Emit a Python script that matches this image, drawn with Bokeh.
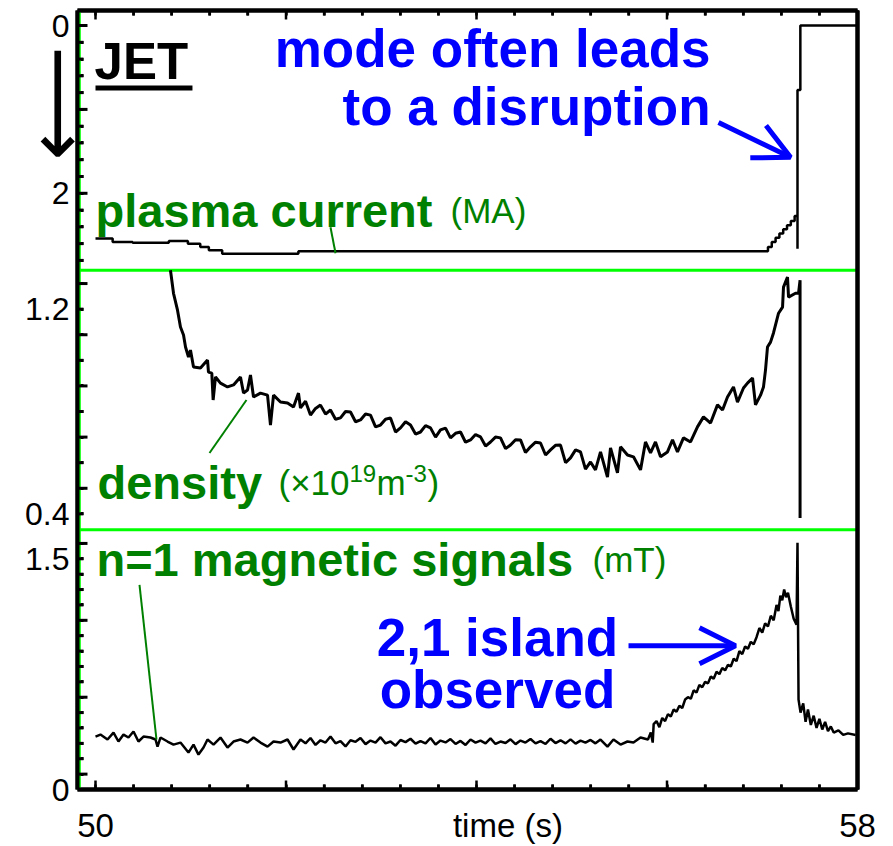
from bokeh.plotting import figure
from bokeh.models import Range1d, LinearAxis, FixedTicker, Span, Label, Arrow, OpenHead
from bokeh.embed import file_html
from bokeh.resources import INLINE

# ---------------- data ----------------
# plasma current (MA), staircase trace
ip_time = [50.00, 50.18, 50.39, 50.77, 50.97, 51.10, 51.19, 51.33, 52.13, 57.06, 57.10,
           57.14, 57.18, 57.22, 57.26, 57.30, 57.34, 57.37, 57.37, 57.40, 58.00]
ip_ma = [2.54, 2.58, 2.59, 2.57, 2.60, 2.64, 2.68, 2.72, 2.69, 2.64, 2.58,
         2.53, 2.48, 2.43, 2.38, 2.33, 2.27, 2.66, 0.77, 0.00, 0.00]

# density (x10^19 m^-3)
ne_time = [50.787, 50.819, 50.861, 50.892, 50.924, 50.945, 50.976, 50.997, 51.029, 51.102,
           51.176, 51.186, 51.221, 51.235, 51.260, 51.312, 51.386, 51.449, 51.522, 51.554,
           51.596, 51.627, 51.659, 51.732, 51.806, 51.837, 51.869, 51.942, 52.016, 52.079,
           52.131, 52.152, 52.205, 52.257, 52.310, 52.362, 52.415, 52.467, 52.520, 52.572,
           52.625, 52.677, 52.730, 52.782, 52.835, 52.887, 52.940, 52.992, 53.045, 53.097,
           53.150, 53.202, 53.255, 53.307, 53.360, 53.412, 53.465, 53.517, 53.570, 53.622,
           53.675, 53.727, 53.780, 53.832, 53.885, 53.937, 53.990, 54.042, 54.095, 54.147,
           54.199, 54.252, 54.305, 54.357, 54.410, 54.462, 54.514, 54.567, 54.620, 54.672,
           54.725, 54.777, 54.829, 54.882, 54.935, 54.987, 55.040, 55.092, 55.144, 55.197,
           55.249, 55.302, 55.375, 55.407, 55.480, 55.512, 55.585, 55.648, 55.722, 55.774,
           55.827, 55.879, 55.932, 56.005, 56.058, 56.110, 56.173, 56.247, 56.320, 56.383,
           56.457, 56.530, 56.583, 56.635, 56.698, 56.740, 56.803, 56.845, 56.898, 56.929,
           56.982, 57.013, 57.034, 57.055, 57.087, 57.118, 57.171, 57.213, 57.223, 57.265,
           57.276, 57.349, 57.381, 57.397, 57.397]
ne_val = [1.352, 1.262, 1.196, 1.130, 1.099, 1.052, 1.013, 1.040, 0.974, 0.970,
          1.001, 0.954, 0.950, 0.845, 0.935, 0.911, 0.896, 0.904, 0.935, 0.872,
          0.884, 0.943, 0.857, 0.872, 0.864, 0.747, 0.864, 0.837, 0.833, 0.818,
          0.872, 0.814, 0.840, 0.786, 0.812, 0.825, 0.790, 0.806, 0.770, 0.775,
          0.800, 0.798, 0.760, 0.767, 0.790, 0.786, 0.740, 0.747, 0.770, 0.775,
          0.720, 0.736, 0.760, 0.747, 0.712, 0.720, 0.745, 0.736, 0.700, 0.728,
          0.735, 0.697, 0.715, 0.720, 0.680, 0.689, 0.710, 0.701, 0.665, 0.681,
          0.700, 0.697, 0.655, 0.669, 0.690, 0.689, 0.640, 0.662, 0.680, 0.677,
          0.630, 0.650, 0.668, 0.669, 0.600, 0.619, 0.650, 0.642, 0.575, 0.603,
          0.572, 0.642, 0.544, 0.658, 0.560, 0.662, 0.630, 0.623, 0.572, 0.681,
          0.638, 0.681, 0.623, 0.642, 0.689, 0.642, 0.697, 0.681, 0.740, 0.779,
          0.755, 0.826, 0.806, 0.857, 0.896, 0.837, 0.892, 0.911, 0.931, 0.826,
          0.864, 0.896, 0.962, 1.052, 1.071, 1.107, 1.184, 1.208, 1.286, 1.325,
          1.247, 1.262, 1.262, 1.313, 0.384]

# n=1 magnetic signal (mT)
mag_time = [50.000, 50.052, 50.126, 50.189, 50.241, 50.294, 50.346, 50.399, 50.451, 50.504,
            50.577, 50.630, 50.651, 50.682, 50.756, 50.819, 50.892, 50.976, 51.029, 51.081,
            51.134, 51.176, 51.239, 51.312, 51.386, 51.449, 51.522, 51.596, 51.659, 51.732,
            51.806, 51.869, 51.942, 52.016, 52.079, 52.152, 52.205, 52.257, 52.310, 52.362,
            52.415, 52.467, 52.520, 52.572, 52.625, 52.677, 52.730, 52.782, 52.835, 52.887,
            52.940, 52.992, 53.045, 53.097, 53.150, 53.202, 53.255, 53.307, 53.360, 53.412,
            53.465, 53.517, 53.570, 53.622, 53.675, 53.727, 53.780, 53.832, 53.885, 53.937,
            53.990, 54.042, 54.095, 54.147, 54.199, 54.252, 54.305, 54.357, 54.410, 54.462,
            54.514, 54.567, 54.620, 54.672, 54.725, 54.777, 54.829, 54.882, 54.935, 54.987,
            55.040, 55.092, 55.144, 55.197, 55.249, 55.302, 55.375, 55.438, 55.512, 55.585,
            55.648, 55.722, 55.800, 55.830, 55.850, 55.860, 55.890, 55.920, 55.950, 55.980,
            56.010, 56.040, 56.070, 56.100, 56.130, 56.160, 56.190, 56.220, 56.250, 56.280,
            56.310, 56.340, 56.370, 56.400, 56.430, 56.460, 56.490, 56.520, 56.550, 56.580,
            56.610, 56.640, 56.670, 56.700, 56.730, 56.760, 56.790, 56.820, 56.850, 56.880,
            56.910, 56.940, 56.970, 57.000, 57.030, 57.060, 57.090, 57.120, 57.150, 57.170,
            57.190, 57.210, 57.230, 57.250, 57.270, 57.300, 57.330, 57.360, 57.370, 57.381,
            57.402, 57.430, 57.455, 57.480, 57.510, 57.540, 57.570, 57.600, 57.630, 57.660,
            57.690, 57.720, 57.750, 57.800, 57.850, 57.900, 57.980]
mag_mt = [0.344, 0.357, 0.325, 0.370, 0.312, 0.357, 0.338, 0.377, 0.312, 0.344,
          0.338, 0.325, 0.279, 0.338, 0.312, 0.292, 0.305, 0.240, 0.292, 0.227,
          0.273, 0.325, 0.292, 0.338, 0.273, 0.312, 0.325, 0.305, 0.338, 0.305,
          0.279, 0.312, 0.305, 0.325, 0.260, 0.325, 0.300, 0.335, 0.290, 0.320,
          0.305, 0.345, 0.300, 0.315, 0.280, 0.320, 0.310, 0.335, 0.295, 0.318,
          0.305, 0.340, 0.300, 0.312, 0.285, 0.322, 0.308, 0.330, 0.298, 0.315,
          0.300, 0.335, 0.292, 0.318, 0.306, 0.328, 0.296, 0.316, 0.290, 0.325,
          0.305, 0.318, 0.300, 0.332, 0.296, 0.312, 0.302, 0.326, 0.295, 0.318,
          0.305, 0.328, 0.300, 0.315, 0.296, 0.330, 0.302, 0.320, 0.300, 0.326,
          0.298, 0.318, 0.305, 0.322, 0.300, 0.325, 0.279, 0.325, 0.292, 0.312,
          0.305, 0.338, 0.325, 0.370, 0.305, 0.425, 0.445, 0.405, 0.465, 0.445,
          0.490, 0.475, 0.520, 0.505, 0.545, 0.530, 0.585, 0.600, 0.590, 0.645,
          0.630, 0.680, 0.665, 0.700, 0.690, 0.735, 0.720, 0.765, 0.750, 0.790,
          0.775, 0.810, 0.800, 0.850, 0.835, 0.900, 0.880, 0.930, 0.915, 0.960,
          0.945, 0.990, 1.050, 1.020, 1.080, 1.060, 1.130, 1.100, 1.200, 1.160,
          1.260, 1.230, 1.300, 1.250, 1.280, 1.190, 1.110, 1.071, 1.604, 0.584,
          0.500, 0.560, 0.440, 0.520, 0.420, 0.480, 0.400, 0.460, 0.390, 0.440,
          0.380, 0.410, 0.370, 0.385, 0.355, 0.365, 0.355]

# axis ticks for the three stacked scales: labelled, long and short marks
ip_labels = {0: "0", 2: "2"}
ip_long = [0, 1, 2]
ip_short = [0.2, 0.4, 0.6, 0.8, 1.2, 1.4, 1.6, 1.8, 2.2, 2.4, 2.6, 2.8]
ne_labels = {1.2: "1.2", 0.4: "0.4"}
ne_long = [1.3, 1.1, 0.9, 0.7, 0.5]
ne_short = [1.2, 1.0, 0.8, 0.6, 0.4]
mag_labels = {0: "0", 1.5: "1.5"}
mag_long = [0.1, 0.6, 1.1, 1.6]
mag_short = [0.2, 0.3, 0.4, 0.5, 0.7, 0.8, 0.9, 1.0, 1.2, 1.3, 1.4, 1.5]
time_labels = {50: "50", 54.33: "time (s)", 58: "58"}
time_long = [50, 52, 54, 56, 58]
time_step = 0.4

FONT = "Liberation Sans"
GREEN = "#008000"
LIME = "#00ff00"
BLUE = "#0000ff"

# ---------------- figure ----------------
W, H = 893, 846
BL, BR, BT, BB = 77, 36, 10, 56
FW, FH = W - BL - BR, H - BT - BB
XR = Range1d(49.811, 58.0)
MAIN = Range1d(0, 5.065)       # n=1 signal scale (mT)
IP = Range1d(9.107, -0.179)    # plasma current scale (MA), downwards
NE = Range1d(-0.677, 2.367)    # density scale

p = figure(width=W, height=H, output_backend="svg", toolbar_location=None,
           x_range=XR, y_range=MAIN,
           min_border_left=BL, min_border_right=BR, min_border_top=BT, min_border_bottom=BB)
p.extra_y_ranges = {"ip": IP, "ne": NE}
p.grid.visible = False
p.outline_line_color = None
p.background_fill_color = None
p.border_fill_color = "white"

XPX = (XR.end - XR.start) / FW      # data units per pixel
YPX = (MAIN.end - MAIN.start) / FH


def to_main(v, r):
    return MAIN.start + (v - r.start) / (r.end - r.start) * (MAIN.end - MAIN.start)


lab_pos, overrides, long_pos, short_pos = [], {}, [], []
for labels, longs, shorts, r in ((ip_labels, ip_long, ip_short, IP),
                                 (ne_labels, ne_long, ne_short, NE),
                                 (mag_labels, mag_long, mag_short, MAIN)):
    for v, t in labels.items():
        pos = to_main(v, r)
        lab_pos.append(pos)
        overrides[pos] = t
    long_pos += [to_main(v, r) for v in longs]
    short_pos += [to_main(v, r) for v in shorts]

n_steps = int(round((time_long[-1] - time_long[0]) / time_step))
time_all = [round(time_long[0] + i * time_step, 3) for i in range(n_steps + 1)]
time_short = [t for t in time_all if t not in time_long]

TICKS = dict(major_tick_in=0, major_tick_out=0, minor_tick_out=0,
             major_tick_line_color="black", minor_tick_line_color="black")

# left axis: labels, with every mark as a short inward minor tick
ya = p.yaxis[0]
ya.ticker = FixedTicker(ticks=lab_pos, minor_ticks=long_pos + short_pos)
ya.major_label_overrides = overrides
ya.axis_line_width = 4
for k, v in TICKS.items():
    setattr(ya, k, v)
ya.minor_tick_in = 6
ya.minor_tick_line_width = 3
ya.major_label_text_font = FONT
ya.major_label_text_font_size = "32px"
ya.major_label_text_color = "black"
ya.major_label_standoff = 8
# the downward arrow beside the current scale
ya.axis_label = "\u2003" * 7 + "\u2005\u2006" + "\u27f5"
ya.axis_label_text_font = "DejaVu Sans"
ya.axis_label_text_font_size = "80px"
ya.axis_label_text_font_style = "normal"
ya.axis_label_text_color = "black"
ya.axis_label_standoff = -80

# bottom axis
xa = p.xaxis[0]
xa.ticker = FixedTicker(ticks=list(time_labels), minor_ticks=time_all)
xa.major_label_overrides = time_labels
xa.axis_line_width = 4
for k, v in TICKS.items():
    setattr(xa, k, v)
xa.minor_tick_in = 5
xa.minor_tick_line_width = 2.5
xa.major_label_text_font = FONT
xa.major_label_text_font_size = "33px"
xa.major_label_text_color = "black"
xa.major_label_standoff = 17

# top and right edges
p.add_layout(LinearAxis(ticker=FixedTicker(ticks=[], minor_ticks=time_all), axis_line_width=4,
                        minor_tick_in=5, minor_tick_line_width=2.5, **TICKS), "above")
p.add_layout(LinearAxis(ticker=FixedTicker(ticks=[]), axis_line_width=4, minor_tick_in=0,
                        **TICKS), "right")

# separators
p.add_layout(Span(location=2.917, dimension="width", y_range_name="ip",
                  line_color=LIME, line_width=3, level="underlay"))
p.add_layout(Span(location=0.338, dimension="width", y_range_name="ne",
                  line_color=LIME, line_width=3, level="underlay"))

# green rule inside the left edge, long/short inward marks, inner half of the frame border
x0 = XR.start
OV = dict(level="overlay")
p.segment(x0=[x0 + 2.3 * XPX], y0=[MAIN.start], x1=[x0 + 2.3 * XPX], y1=[MAIN.end],
          line_color=LIME, line_width=2, **OV)
p.segment(x0=[x0] * len(long_pos), y0=long_pos, x1=[x0 + 10 * XPX] * len(long_pos), y1=long_pos,
          line_color="black", line_width=3, **OV)
p.segment(x0=[x0] * len(short_pos), y0=short_pos, x1=[x0 + 6 * XPX] * len(short_pos), y1=short_pos,
          line_color="black", line_width=3, **OV)
for edge, sign in ((MAIN.start, 1), (MAIN.end, -1)):
    p.segment(x0=time_long, y0=[edge] * len(time_long), x1=time_long,
              y1=[edge + sign * 9 * YPX] * len(time_long), line_color="black", line_width=2.5, **OV)
    p.segment(x0=time_short, y0=[edge] * len(time_short), x1=time_short,
              y1=[edge + sign * 5 * YPX] * len(time_short), line_color="black", line_width=2.5, **OV)
p.segment(x0=[XR.start, XR.end, XR.start, XR.start], y0=[MAIN.start, MAIN.start, MAIN.start, MAIN.end],
          x1=[XR.start, XR.end, XR.end, XR.end], y1=[MAIN.end, MAIN.end, MAIN.start, MAIN.end],
          line_color="black", line_width=4, **OV)

# traces
p.step(ip_time, ip_ma, mode="after", y_range_name="ip", line_color="black", line_width=2.5)
p.line(ne_time, ne_val, y_range_name="ne", line_color="black", line_width=3)
p.line(mag_time, mag_mt, line_color="black", line_width=2.5)

# leader lines
p.segment(x0=[52.467], y0=[2.405], x1=[52.520], y1=[2.714], y_range_name="ip",
          line_color=GREEN, line_width=2)
p.segment(x0=[51.197], y0=[0.638], x1=[51.585], y1=[0.845], y_range_name="ne",
          line_color=GREEN, line_width=2)
p.segment(x0=[50.462], y0=[1.331], x1=[50.640], y1=[0.325],
          line_color=GREEN, line_width=2)

# JET underline
p.segment(x0=[50.0], y0=[0.744], x1=[51.018], y1=[0.744], y_range_name="ip",
          line_color="black", line_width=5)

YFIX = 17


def lab(text, x, y, size, color, style="normal", align="left", rng="default", xo=0, yo=0):
    p.add_layout(Label(text=text, x=x, y=y, y_range_name=rng, text_font=FONT,
                       text_font_size=size, text_color=color, text_font_style=style,
                       text_align=align, text_baseline="alphabetic", x_offset=xo, y_offset=yo + YFIX))


lab("JET", 49.99, 0.631, "51px", "black", "bold", rng="ip")
lab("mode often leads", 56.457, 0.512, "53px", BLUE, "bold", "right", "ip", yo=3)
lab("to a disruption", 56.457, 1.167, "53px", BLUE, "bold", "right", "ip")
lab("plasma current", 50.0, 2.405, "47px", GREEN, "bold", rng="ip")
lab("(MA)", 53.727, 2.405, "35px", GREEN, rng="ip")
lab("density", 50.021, 0.4547, "47px", GREEN, "bold", rng="ne")
lab("(\u00d710", 51.921, 0.4547, "35px", GREEN, rng="ne")
lab("19", 51.921, 0.4547, "24px", GREEN, rng="ne", xo=71, yo=9)
lab("m", 51.921, 0.4547, "35px", GREEN, rng="ne", xo=98)
lab("-3", 51.921, 0.4547, "24px", GREEN, rng="ne", xo=127, yo=9)
lab(")", 51.921, 0.4547, "35px", GREEN, rng="ne", xo=149)
lab("n=1 magnetic signals", 50.010, 1.383, "47px", GREEN, "bold")
lab("(mT)", 55.218, 1.383, "35px", GREEN)
lab("2,1 island", 54.220, 0.877, "53px", BLUE, "bold", "center")
lab("observed", 54.220, 0.539, "53px", BLUE, "bold", "center")

# arrows
p.add_layout(Arrow(end=OpenHead(size=36, line_color=BLUE, line_width=5),
                   x_start=56.541, y_start=1.155, x_end=57.297, y_end=1.571,
                   y_range_name="ip", line_color=BLUE, line_width=5))
p.add_layout(Arrow(end=OpenHead(size=36, line_color=BLUE, line_width=5),
                   x_start=55.596, y_start=0.935, x_end=56.719, y_end=0.935,
                   line_color=BLUE, line_width=5))

open("out.html", "w").write(file_html(p, INLINE))
